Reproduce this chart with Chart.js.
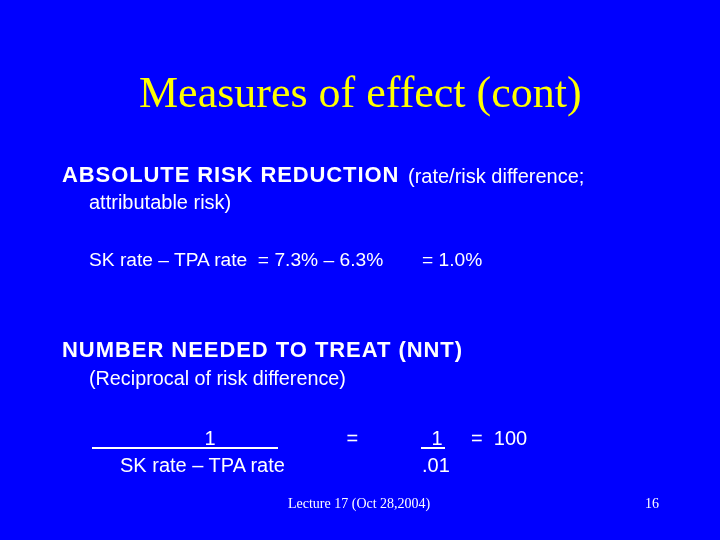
<!DOCTYPE html>
<html>
<head>
<meta charset="utf-8">
<script src="https://cdn.jsdelivr.net/npm/chart.js@4"></script>
<style>
    html, body { margin: 0; padding: 0; background: #0000ff; }
    #slide { position: relative; width: 720px; height: 540px; overflow: hidden; }
    #bg { position: absolute; left: 0; top: 0; }
    .t { position: absolute; white-space: pre; line-height: 1; color: #ffffff;
         font-family: "Liberation Sans", Arial, sans-serif; }
    .rule { position: absolute; height: 2px; background: #ffffff; }
</style>
</head>
<body>
<div id="slide">
    <canvas id="bg" width="720" height="540"></canvas>
</div>
<script>
// ── Values ──
const rateNames = ["SK rate", "TPA rate"];
const ratePercents = [7.3, 6.3];
const riskDifferencePercent = [1.0];
const riskDifferenceDecimal = [".01"];
const nntValue = [100];

const titleText = "Measures of effect (cont)";
const footerText = "Lecture 17 (Oct 28,2004)";
const pageNumber = "16";

// ── Background drawn by Chart.js (empty chart, no axes) ──
const slideBackground = {
    id: "slideBackground",
    beforeDraw(chart) {
        const { ctx, width, height } = chart;
        ctx.save();
        ctx.fillStyle = "#0000ff";
        ctx.fillRect(0, 0, width, height);
        ctx.restore();
    },
};

new Chart(document.getElementById("bg"), {
    type: "bar",
    data: { labels: [], datasets: [] },
    options: {
        responsive: false,
        animation: false,
        events: [],
        plugins: { legend: { display: false }, tooltip: { enabled: false } },
        scales: { x: { display: false }, y: { display: false } },
    },
    plugins: [slideBackground],
});

// ── Text placement helpers ──
const slide = document.getElementById("slide");
const SANS_ASC = 0.8465;   // baseline offset for Liberation Sans at line-height 1
const SERIF_ASC = 0.8375;  // baseline offset for Liberation Serif at line-height 1

function addText(text, x, baseline, size, opts = {}) {
    const el = document.createElement("div");
    el.className = "t";
    el.textContent = text;
    const serif = opts.serif || false;
    if (serif) el.style.fontFamily = '"Liberation Serif", "Times New Roman", serif';
    el.style.fontSize = size + "px";
    if (opts.bold) el.style.fontWeight = "bold";
    if (opts.spacing) el.style.letterSpacing = opts.spacing + "px";
    if (opts.color) el.style.color = opts.color;
    el.style.top = (baseline - (serif ? SERIF_ASC : SANS_ASC) * size) + "px";
    slide.appendChild(el);
    if (opts.center) {
        el.style.left = (x - el.offsetWidth / 2) + "px";
    } else {
        el.style.left = x + "px";
    }
    return el;
}

function addRule(x1, x2, y) {
    const el = document.createElement("div");
    el.className = "rule";
    el.style.left = x1 + "px";
    el.style.width = (x2 - x1) + "px";
    el.style.top = y + "px";
    slide.appendChild(el);
}

const diffLabel = `${rateNames[0]} – ${rateNames[1]}`;

// Title
addText(titleText, 360.5, 108, 44, { serif: true, center: true, color: "#ffff00" });

// Absolute risk reduction
addText("ABSOLUTE RISK REDUCTION", 62, 183, 22, { bold: true, spacing: 0.9 });
addText("(rate/risk difference;", 408, 183, 20);
addText("attributable risk)", 89, 209, 20);
addText(`${diffLabel}  = ${ratePercents[0].toFixed(1)}% – ${ratePercents[1].toFixed(1)}%`, 89, 266, 19.2);
addText(`= ${riskDifferencePercent[0].toFixed(1)}%`, 422, 266, 19.2);

// Number needed to treat
addText("NUMBER NEEDED TO TREAT (NNT)", 62, 358, 22, { bold: true, spacing: 0.95 });
addText("(Reciprocal of risk difference)", 89, 386, 19.8);

addText("1", 210, 445, 20, { center: true });
addRule(92, 278, 447);
addText(diffLabel, 120, 472, 20);

addText("=", 352.5, 445, 20, { center: true });

addText("1", 437, 445, 20, { center: true });
addRule(421, 445, 447);
addText(riskDifferenceDecimal[0], 422, 472, 20);

addText(`=  ${nntValue[0]}`, 471, 445, 20);

// Footer
addText(footerText, 288, 509, 14, { serif: true });
addText(pageNumber, 645, 509, 14, { serif: true });
</script>
</body>
</html>
